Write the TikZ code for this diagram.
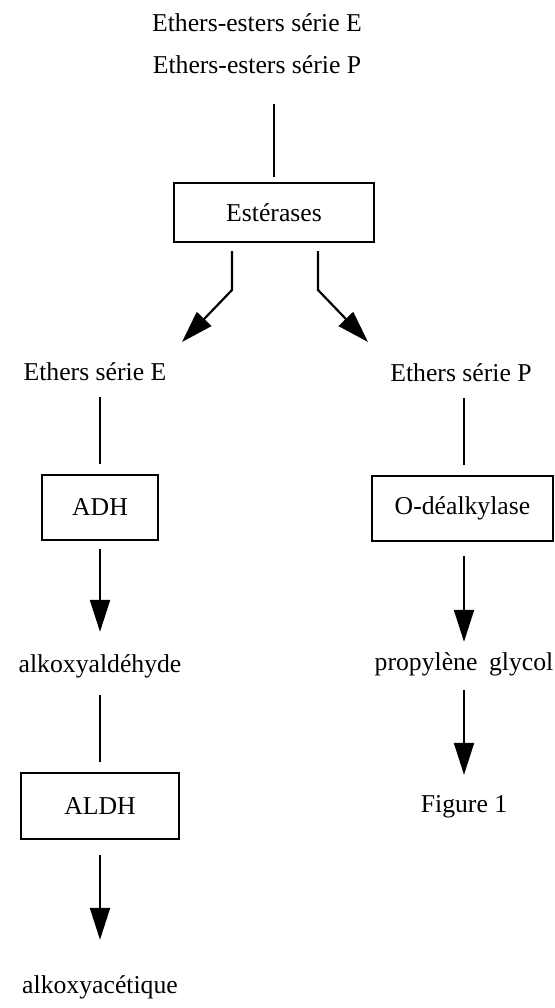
\documentclass[tikz,border=0pt]{standalone}
\usepackage{fontspec}
\setmainfont{Liberation Serif}
\usetikzlibrary{arrows.meta}

\begin{document}
\begin{tikzpicture}[x=1pt,y=-1pt,
  lbl/.style={inner sep=0pt, anchor=base, text height=18pt, text depth=6pt,
    font=\fontsize{25.7}{30}\selectfont},
  enzbox/.style={draw, line width=2.3pt, inner sep=0pt,
    font=\fontsize{25.7}{30}\selectfont},
  link/.style={line width=2.2pt},
  flow/.style={line width=2.2pt, -{Triangle[length=32pt,width=20pt]}}]
\useasboundingbox (0,0) rectangle (554,1008);

% Substrates and esterases
\node[lbl] (eeE) at (257,32) {Ethers-esters série E};
\node[lbl] (eeP) at (257,74) {Ethers-esters série P};
\node[enzbox, minimum width=200pt, minimum height=59pt] (est) at (274,212.5) {Estérases};

% Serie E branch
\node[lbl] (ethE) at (95,380) {Ethers série E};
\node[enzbox, minimum width=116pt, minimum height=65pt] (adh) at (100,507.5) {ADH};
\node[lbl] (ald) at (100,672) {alkoxyaldéhyde};
\node[enzbox, minimum width=158pt, minimum height=66pt] (aldh) at (100,806) {ALDH};
\node[lbl] (acid) at (100,993) {alkoxyacétique};

% Serie P branch
\node[lbl] (ethP) at (461,381) {Ethers série P};
\node[enzbox, minimum width=181pt, minimum height=65pt] (odeal) at (462.5,508.5) {O-déalkylase};
\node[lbl] (pg) at (464,670) {propylène\hspace{0.2em} glycol};
\node[lbl] (fig) at (464,812) {Figure 1};

\coordinate (kL) at (232,290);
\coordinate (tL) at (182,342);
\coordinate (kR) at (318,290);
\coordinate (tR) at (368,342);

\draw[link, shorten <=24pt, shorten >=5pt] (est.north |- eeP.south) -- (est.north);
\draw[flow, shorten <=8pt] (est.south -| kL) -- (kL) -- (tL);
\draw[flow, shorten <=8pt] (est.south -| kR) -- (kR) -- (tR);

\draw[link, shorten <=11pt, shorten >=10pt] (ethE.south -| adh) -- (adh);
\draw[flow, shorten <=8pt, shorten >=22pt] (adh) -- (ald);
\draw[link, shorten <=17pt, shorten >=10pt] (ald) -- (aldh);
\draw[flow, shorten <=15pt, shorten >=35pt] (aldh) -- (acid);

\draw[link, shorten <=11pt, shorten >=10pt] (ethP.south -| pg) -- (odeal.north -| pg);
\draw[flow, shorten <=14pt, shorten >=10pt] (odeal.south -| pg) -- (pg);
\draw[flow, shorten <=14pt, shorten >=19pt] (pg) -- (fig);
\end{tikzpicture}
\end{document}
